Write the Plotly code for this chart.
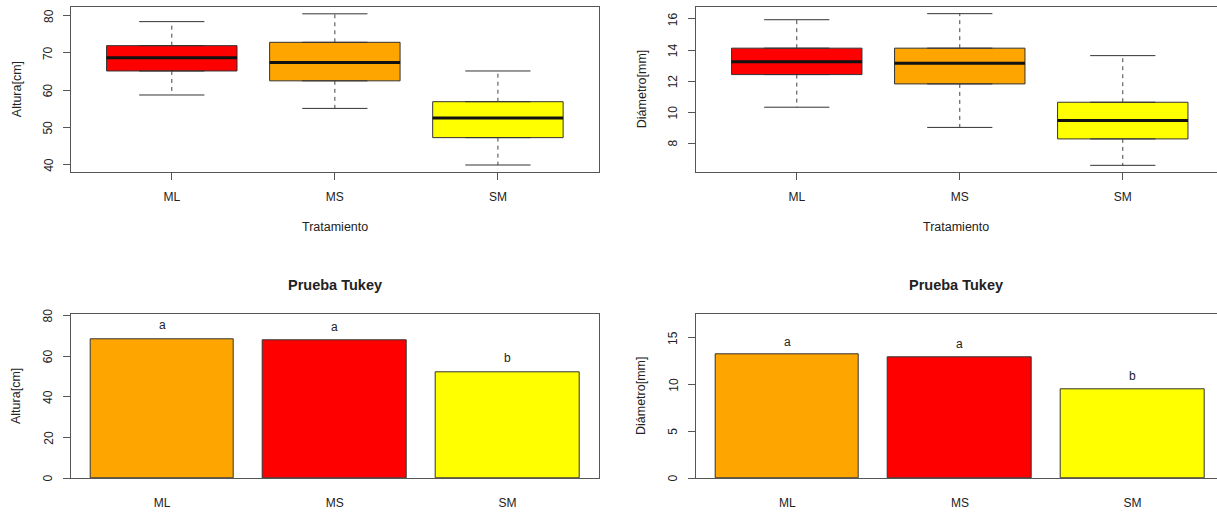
import plotly.graph_objects as go

# ---- data -------------------------------------------------------------
categories = ["ML", "MS", "SM"]

# Altura [cm] boxplot statistics
altura_min = [58.7, 55.1, 39.9]
altura_q1 = [65.15, 62.5, 47.25]
altura_med = [68.7, 67.4, 52.5]
altura_q3 = [71.95, 72.85, 56.9]
altura_max = [78.4, 80.5, 65.15]

# Diámetro [mm] boxplot statistics
diam_min = [10.32, 9.02, 6.58]
diam_q1 = [12.42, 11.82, 8.28]
diam_med = [13.25, 13.15, 9.46]
diam_q3 = [14.12, 14.12, 10.64]
diam_max = [15.95, 16.34, 13.64]

# Tukey test: means and group letters
altura_media = [68.4, 67.5, 52.0]
diam_media = [13.19, 12.9, 9.53]
letras = ["a", "a", "b"]

# y tick values for each panel
ticks_altura_box = [40, 50, 60, 70, 80]
ticks_diam_box = [8, 10, 12, 14, 16]
ticks_altura_bar = [0, 20, 40, 60, 80]
ticks_diam_bar = [0, 5, 10, 15]

box_colors = ["#FF0000", "#FFA500", "#FFFF00"]
bar_colors = ["#FFA500", "#FF0000", "#FFFF00"]

# ---- layout constants -------------------------------------------------
W, H = 1217, 512
FONT = "Liberation Sans, Arial, sans-serif"
TXT = "#222222"
FRAME = "#555555"

def xdom(a, b):
    return [a / W, min(b / W, 1.0)]

def ydom(top, bottom):
    return [1 - bottom / H, 1 - top / H]

fig = go.Figure()

def add_boxes(xa, ya, q1, med, q3, lo, hi):
    for i, cat in enumerate(categories):
        pos = i + 1
        fig.add_trace(go.Box(
            x=[pos], q1=[q1[i]], median=[med[i]], q3=[q3[i]],
            lowerfence=[q1[i]], upperfence=[q3[i]],
            width=0.8, fillcolor=box_colors[i],
            line=dict(color="#333333", width=1),
            boxpoints=False, name=cat, showlegend=False,
            xaxis=xa, yaxis=ya, hoverinfo="skip"))
        # dashed whiskers
        fig.add_trace(go.Scatter(
            x=[pos, pos, None, pos, pos],
            y=[q3[i], hi[i], None, q1[i], lo[i]],
            mode="lines", line=dict(color="#444444", width=1, dash="4px,4px"),
            showlegend=False, xaxis=xa, yaxis=ya, hoverinfo="skip"))
        # whisker caps
        fig.add_trace(go.Scatter(
            x=[pos - 0.2, pos + 0.2, None, pos - 0.2, pos + 0.2],
            y=[hi[i], hi[i], None, lo[i], lo[i]],
            mode="lines", line=dict(color="#333333", width=1),
            showlegend=False, xaxis=xa, yaxis=ya, hoverinfo="skip"))
        # thick median
        fig.add_trace(go.Scatter(
            x=[pos - 0.4, pos + 0.4], y=[med[i], med[i]],
            mode="lines", line=dict(color="#111111", width=3),
            showlegend=False, xaxis=xa, yaxis=ya, hoverinfo="skip"))

def add_bars(xa, ya, means):
    centers = [0.7 + 1.2 * i for i in range(len(categories))]
    fig.add_trace(go.Bar(
        x=centers, y=means, width=1.0,
        marker=dict(color=bar_colors, line=dict(color="#333333", width=1)),
        showlegend=False, xaxis=xa, yaxis=ya, hoverinfo="skip"))
    return centers

add_boxes("x", "y", altura_q1, altura_med, altura_q3, altura_min, altura_max)
add_boxes("x2", "y2", diam_q1, diam_med, diam_q3, diam_min, diam_max)
c3 = add_bars("x3", "y3", altura_media)
c4 = add_bars("x4", "y4", diam_media)

tickfont = dict(family=FONT, size=12, color=TXT)

def xaxis_box(dom, rng, anchor, mirror=True):
    return dict(domain=dom, range=rng, anchor=anchor, tickvals=[1, 2, 3],
                ticktext=categories, ticks="outside", ticklen=7, tickcolor=FRAME,
                showline=True, linecolor=FRAME, linewidth=1, mirror=mirror,
                showgrid=False, zeroline=False, tickfont=tickfont,
                ticklabelstandoff=7, fixedrange=True)

def xaxis_bar(dom, rng, anchor, centers):
    return dict(domain=dom, range=rng, anchor=anchor, tickvals=centers,
                ticktext=categories, ticks="", showline=True, linecolor=FRAME,
                linewidth=1, mirror=True, showgrid=False, zeroline=False,
                tickfont=tickfont, ticklabelstandoff=13, fixedrange=True)

def yaxis(dom, rng, anchor, tickvals, mirror=True):
    # tick labels are drawn below as rotated annotations
    return dict(domain=dom, range=rng, anchor=anchor, tickvals=tickvals,
                ticks="outside", ticklen=7, tickcolor=FRAME,
                showticklabels=False, showline=True, linecolor=FRAME,
                linewidth=1, mirror=mirror, showgrid=False, zeroline=False,
                fixedrange=True)

top_y = ydom(7.3, 171.7)
bot_y = ydom(314.3, 478.3)
left_x = xdom(70.7, 599)
right_x = xdom(695.7, 1217)

fig.update_layout(
    width=W, height=H,
    margin=dict(l=0, r=0, t=0, b=0),
    paper_bgcolor="white", plot_bgcolor="white",
    font=dict(family=FONT, color=TXT),
    xaxis=xaxis_box(left_x, [0.38, 3.62], "y"),
    yaxis=yaxis(top_y, [38.1, 82.25], "x", ticks_altura_box),
    xaxis2=xaxis_box(right_x, [0.38, 3.578], "y2"),
    yaxis2=yaxis(top_y, [6.17, 16.75], "x2", ticks_diam_box, mirror=False),
    xaxis3=xaxis_bar(left_x, [0.064, 3.736], "y3", c3),
    yaxis3=yaxis(bot_y, [0, 80.5], "x3", ticks_altura_bar),
    xaxis4=xaxis_bar(right_x, [0.064, 3.687], "y4", c4),
    yaxis4=yaxis(bot_y, [0, 17.5], "x4", ticks_diam_bar, mirror=False),
    bargap=0,
)

anns = []
# rotated y tick labels (read bottom-to-top)
for xr, yr, vals in [("x", "y", ticks_altura_box), ("x2", "y2", ticks_diam_box),
                     ("x3", "y3", ticks_altura_bar), ("x4", "y4", ticks_diam_bar)]:
    for v in vals:
        anns.append(dict(text=str(v), xref=f"{xr} domain", yref=yr, x=0, y=v,
                         xshift=-22.5, textangle=-90, showarrow=False,
                         xanchor="center", yanchor="middle", font=tickfont))

title_font = dict(family=FONT, size=12.5, color=TXT)
for xr, yr, ytitle in [("x", "y", "Altura[cm]"), ("x2", "y2", "Diámetro[mm]"),
                       ("x3", "y3", "Altura[cm]"), ("x4", "y4", "Diámetro[mm]")]:
    anns.append(dict(text=ytitle, xref=f"{xr} domain", yref=f"{yr} domain",
                     x=0, y=0.5, xshift=-54, textangle=-90, showarrow=False,
                     xanchor="center", yanchor="middle", font=title_font))
for xr, yr in [("x", "y"), ("x2", "y2")]:
    anns.append(dict(text="Tratamiento", xref=f"{xr} domain", yref=f"{yr} domain",
                     x=0.5, y=0, yshift=-55, showarrow=False,
                     xanchor="center", yanchor="middle", font=title_font))
for xr, yr in [("x3", "y3"), ("x4", "y4")]:
    anns.append(dict(text="<b>Prueba Tukey</b>", x=0.5, y=1,
                     xref=f"{xr} domain", yref=f"{yr} domain", yshift=29,
                     showarrow=False, xanchor="center", yanchor="middle",
                     font=dict(family=FONT, size=14.5, color=TXT)))
# group letters above bars
for centers, means, xr, yr, shift in [(c3, altura_media, "x3", "y3", 14),
                                      (c4, diam_media, "x4", "y4", 13)]:
    for cx, m, lt in zip(centers, means, letras):
        anns.append(dict(text=lt, x=cx, y=m, xref=xr, yref=yr, yshift=shift,
                         showarrow=False, xanchor="center", yanchor="middle",
                         font=dict(family=FONT, size=12, color=TXT)))

fig.update_layout(annotations=anns)
fig.write_html("out.html")
